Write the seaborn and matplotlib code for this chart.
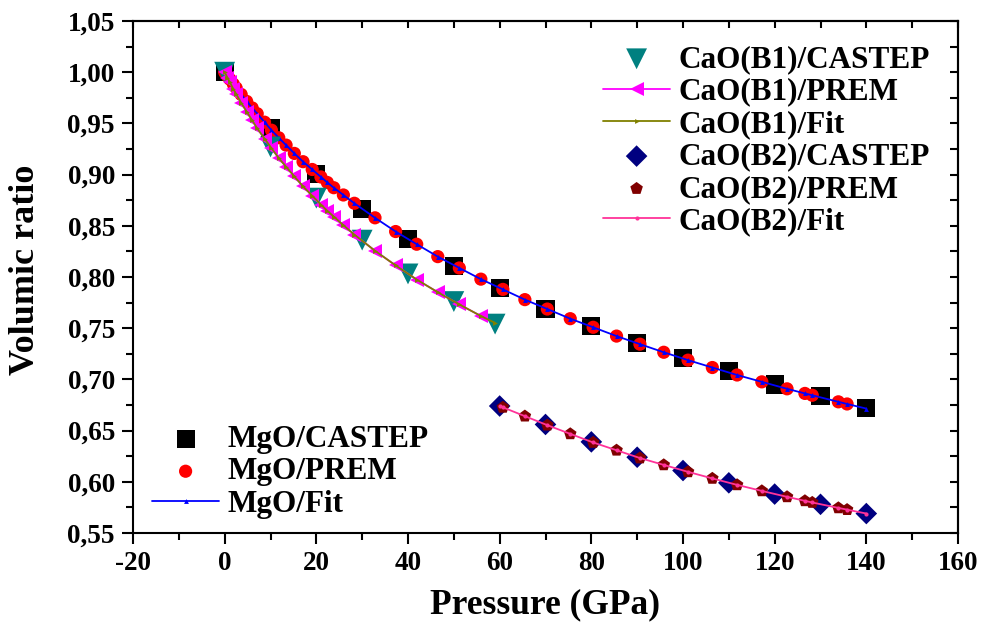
import matplotlib
matplotlib.use("Agg")
import matplotlib.pyplot as plt
import seaborn as sns
from matplotlib.ticker import MultipleLocator, FuncFormatter

# ---------------- data ----------------
# MgO
mgo_castep_p = [0, 10, 20, 30, 40, 50, 60, 70, 80, 90, 100, 110, 120, 130, 140]
mgo_castep_v = [1.000, 0.945, 0.901, 0.866, 0.837, 0.811, 0.789, 0.769, 0.752,
                0.736, 0.721, 0.708, 0.695, 0.684, 0.672]

mgo_prem_p = [0, 0.6, 1.1, 1.9, 2.5, 3.6, 4.8, 6.0, 7.1, 8.7, 10.2, 11.8, 13.4,
              15.2, 17.1, 19.1, 21.0, 22.4, 23.8, 25.9, 28.3, 32.8, 37.3, 41.9,
              46.5, 51.2, 55.9, 60.7, 65.5, 70.4, 75.4, 80.4, 85.5, 90.6, 95.8,
              101.1, 106.4, 111.8, 117.2, 122.7, 126.6, 128.2, 133.9, 135.8]
mgo_prem_v = [1.0000, 0.9963, 0.9933, 0.9883, 0.9847, 0.9783, 0.9715, 0.9651,
              0.9595, 0.9512, 0.9434, 0.9360, 0.9288, 0.9207, 0.9126, 0.9050,
              0.8977, 0.8923, 0.8872, 0.8801, 0.8720, 0.8578, 0.8444, 0.8320,
              0.8199, 0.8088, 0.7979, 0.7879, 0.7779, 0.7687, 0.7593, 0.7509,
              0.7423, 0.7344, 0.7265, 0.7188, 0.7116, 0.7043, 0.6976, 0.6908,
              0.6863, 0.6845, 0.6781, 0.6760]

mgo_fit_p = mgo_prem_p + [140]
mgo_fit_v = mgo_prem_v + [0.6715]

# CaO, B1 (NaCl-type) phase
b1_castep_p = [0, 10, 20, 30, 40, 50, 59]
b1_castep_v = [1.000, 0.927, 0.877, 0.836, 0.803, 0.776, 0.754]

b1_prem_p = [0, 0.6, 1.1, 1.9, 2.5, 3.6, 4.8, 6.0, 7.1, 8.7, 10.2, 11.8, 13.4,
             15.2, 17.1, 19.1, 21.0, 22.4, 23.8, 25.9, 28.3, 32.8, 37.3, 41.9,
             46.5, 51.2, 55.9]
b1_prem_v = [1.0000, 0.9948, 0.9904, 0.9836, 0.9788, 0.9701, 0.9615, 0.9530,
             0.9452, 0.9351, 0.9259, 0.9161, 0.9077, 0.8982, 0.8885, 0.8794,
             0.8707, 0.8646, 0.8590, 0.8506, 0.8414, 0.8256, 0.8113, 0.7975,
             0.7851, 0.7732, 0.7619]

b1_fit_p = b1_prem_p + [59]
b1_fit_v = b1_prem_v + [0.7552]

# CaO, B2 (CsCl-type) phase
b2_castep_p = [60, 70, 80, 90, 100, 110, 120, 130, 140]
b2_castep_v = [0.674, 0.656, 0.639, 0.624, 0.611, 0.599, 0.588, 0.578, 0.569]

b2_prem_p = [60.7, 65.5, 70.4, 75.4, 80.4, 85.5, 90.6, 95.8, 101.1, 106.4,
             111.8, 117.2, 122.7, 126.6, 128.2, 133.9, 135.8]
b2_prem_v = [0.6727, 0.6641, 0.6553, 0.6468, 0.6384, 0.6308, 0.6232, 0.6165,
             0.6097, 0.6033, 0.5970, 0.5911, 0.5853, 0.5814, 0.5798, 0.5745,
             0.5728]

b2_fit_p = [60] + b2_prem_p + [140]
b2_fit_v = [0.674] + b2_prem_v + [0.569]

x_ticks_major, x_ticks_minor = 20, 10
y_ticks_major, y_ticks_minor = 0.05, 0.025

# ---------------- style ----------------
sns.set_theme(style="ticks")
serif = ["Liberation Serif", "DejaVu Serif"]
plt.rcParams["font.family"] = serif
plt.rcParams["font.weight"] = "bold"
plt.rcParams["axes.labelweight"] = "bold"
plt.rcParams["axes.edgecolor"] = "black"
plt.rcParams["axes.labelcolor"] = "black"
plt.rcParams["text.color"] = "black"
plt.rcParams["xtick.color"] = "black"
plt.rcParams["ytick.color"] = "black"
plt.rcParams["xtick.labelcolor"] = "black"
plt.rcParams["ytick.labelcolor"] = "black"

W, H = 984, 627
fig = plt.figure(figsize=(W / 100, H / 100), dpi=100)
ax = fig.add_axes([133 / W, 1 - 533 / H, (958 - 133) / W, (533 - 21) / H])

TEAL, MAGENTA, OLIVE = "#008080", "#ff00ff", "#808000"
NAVY, WINE, PINK = "#000080", "#800000", "#ff3399"

# MgO
sns.scatterplot(x=mgo_castep_p, y=mgo_castep_v, marker="s", s=13 ** 2,
                color="black", edgecolor="none", label="MgO/CASTEP",
                ax=ax, zorder=3)
sns.scatterplot(x=mgo_prem_p, y=mgo_prem_v, marker="o", s=9.5 ** 2,
                color="#ff0000", edgecolor="none", label="MgO/PREM",
                ax=ax, zorder=4)
sns.lineplot(x=mgo_fit_p, y=mgo_fit_v, color="#0000ff", lw=1.3, marker="^",
             markersize=3.5, markeredgewidth=0, label="MgO/Fit",
             ax=ax, sort=False, zorder=5)

# CaO B1
sns.scatterplot(x=b1_castep_p, y=b1_castep_v, marker="v", s=15 ** 2,
                color=TEAL, edgecolor="none", label="CaO(B1)/CASTEP",
                ax=ax, zorder=6)
sns.lineplot(x=b1_prem_p, y=b1_prem_v, color=MAGENTA, lw=1.3, marker="<",
             markersize=9.5, markeredgewidth=0, label="CaO(B1)/PREM",
             ax=ax, sort=False, zorder=7)
sns.lineplot(x=b1_fit_p, y=b1_fit_v, color=OLIVE, lw=1.3, marker=">",
             markersize=3.5, markeredgewidth=0, label="CaO(B1)/Fit",
             ax=ax, sort=False, zorder=8)

# CaO B2
sns.scatterplot(x=b2_castep_p, y=b2_castep_v, marker="D", s=11 ** 2,
                color=NAVY, edgecolor="none", label="CaO(B2)/CASTEP",
                ax=ax, zorder=6)
sns.scatterplot(x=b2_prem_p, y=b2_prem_v, marker="p", s=9.5 ** 2,
                color=WINE, edgecolor="none", label="CaO(B2)/PREM",
                ax=ax, zorder=7)
sns.lineplot(x=b2_fit_p, y=b2_fit_v, color=PINK, lw=1.3, marker="o",
             markersize=3, markeredgewidth=0, label="CaO(B2)/Fit",
             ax=ax, sort=False, zorder=8)

# ---------------- axes ----------------
ax.set_xlim(-20, 160)
ax.set_ylim(0.55, 1.05)
ax.xaxis.set_major_locator(MultipleLocator(x_ticks_major))
ax.xaxis.set_minor_locator(MultipleLocator(x_ticks_minor))
ax.yaxis.set_major_locator(MultipleLocator(y_ticks_major))
ax.yaxis.set_minor_locator(MultipleLocator(y_ticks_minor))
ax.xaxis.set_major_formatter(FuncFormatter(lambda v, _: f"{v:.0f}"))
ax.yaxis.set_major_formatter(FuncFormatter(lambda v, _: f"{v:.2f}".replace(".", ",")))

ax.tick_params(which="major", direction="out", length=8, width=1.5,
               labelsize=19.5, pad=5, top=False, right=False)
ax.tick_params(which="minor", direction="out", length=5, width=1.5,
               top=False, right=False)
for s in ax.spines.values():
    s.set_visible(True)
    s.set_linewidth(1.5)
    s.set_color("black")

# inward ticks on the top and right edges
top = ax.secondary_xaxis("top")
top.xaxis.set_major_locator(MultipleLocator(x_ticks_major))
top.xaxis.set_minor_locator(MultipleLocator(x_ticks_minor))
top.tick_params(which="both", direction="in", length=5, width=1.5, labeltop=False)
right = ax.secondary_yaxis("right")
right.yaxis.set_major_locator(MultipleLocator(y_ticks_major))
right.yaxis.set_minor_locator(MultipleLocator(y_ticks_minor))
right.tick_params(which="both", direction="in", length=6, width=1.5, labelright=False)
for sec in (top, right):
    for s in sec.spines.values():
        s.set_linewidth(1.5)

ax.set_xlabel("Pressure (GPa)", fontsize=25.5, fontweight="bold")
ax.set_ylabel("Volumic ratio", fontsize=26, fontweight="bold")
ax.xaxis.set_label_coords(0.5, -0.108)
ax.yaxis.set_label_coords(-0.110, 0.514)

# ---------------- legends ----------------
handles, labels = ax.get_legend_handles_labels()
lookup = dict(zip(labels, handles))
cao_labels = ["CaO(B1)/CASTEP", "CaO(B1)/PREM", "CaO(B1)/Fit",
              "CaO(B2)/CASTEP", "CaO(B2)/PREM", "CaO(B2)/Fit"]
mgo_labels = ["MgO/CASTEP", "MgO/PREM", "MgO/Fit"]
legend_font = dict(family=serif, size=22.5, weight="bold")
legend_kw = dict(loc="upper left", bbox_transform=fig.transFigure,
                 frameon=False, prop=legend_font, handlelength=2.15,
                 handletextpad=0.28, labelspacing=0.11, borderpad=0,
                 borderaxespad=0)

leg1 = ax.legend([lookup[l] for l in cao_labels], cao_labels,
                 bbox_to_anchor=(603 / W, 1 - 45 / H), **legend_kw)
ax.add_artist(leg1)
ax.legend([lookup[l] for l in mgo_labels], mgo_labels,
          bbox_to_anchor=(152 / W, 1 - 425 / H), **legend_kw)

fig.savefig("out.png", dpi=100, facecolor="white")
